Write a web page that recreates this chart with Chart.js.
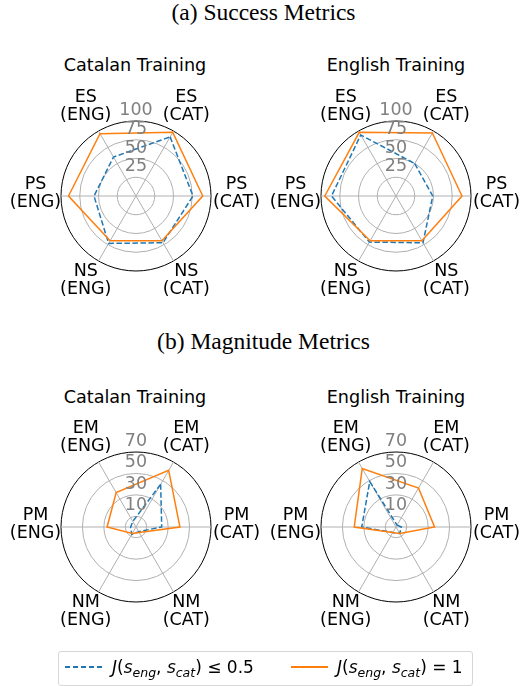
<!DOCTYPE html>
<html>
<head>
<meta charset="utf-8">
<script src="https://cdn.jsdelivr.net/npm/chart.js@4"></script>
<style>
    body {
        margin: 0;
        width: 521px;
        height: 686px;
        position: relative;
        overflow: hidden;
        background: #fff;
        font-family: 'DejaVu Sans', sans-serif;
    }
    canvas { position: absolute; }
    .fig-title {
        position: absolute;
        left: 3px;
        width: 521px;
        text-align: center;
        font-family: 'Liberation Serif', 'Times New Roman', serif;
        font-size: 23.5px;
        line-height: 26px;
    }
    .sub-title {
        position: absolute;
        width: 200px;
        text-align: center;
        font-size: 17.6px;
        line-height: 20px;
    }
    #legend {
        position: absolute;
        left: 58px;
        top: 651px;
        width: 413px;
        height: 33px;
        border: 1px solid #d6d6d6;
        border-radius: 3px;
        font-size: 17px;
    }
    .sample { position: absolute; top: 14px; width: 37px; height: 1.5px; }
    .sample.low { background: repeating-linear-gradient(90deg, #1f77b4 0 5.5px, transparent 5.5px 8px); }
    .sample.full { background: #ff7f0e; }
    .entry { position: absolute; top: 5px; line-height: 20px; white-space: nowrap; }
    .entry sub { font-size: 12.5px; line-height: 0; font-style: italic; }
</style>
</head>
<body>
<div class="fig-title" style="top:-1px">(a) Success Metrics</div>
<div class="fig-title" style="top:328px">(b) Magnitude Metrics</div>

<div class="sub-title" style="left:35px; top:55px">Catalan Training</div>
<div class="sub-title" style="left:296px; top:55px">English Training</div>
<div class="sub-title" style="left:35px; top:387px">Catalan Training</div>
<div class="sub-title" style="left:296px; top:387px">English Training</div>

<canvas id="catSuccess" width="260" height="260" style="left:6px; top:66px"></canvas>
<canvas id="engSuccess" width="260" height="260" style="left:266px; top:66px"></canvas>
<canvas id="catMagnitude" width="260" height="260" style="left:6px; top:397px"></canvas>
<canvas id="engMagnitude" width="260" height="260" style="left:266px; top:397px"></canvas>

<div id="legend">
    <div class="sample low" style="left:6px"></div>
    <div class="entry" style="left:53px"><i>J</i>(<i>s</i><sub>eng</sub>, <i>s</i><sub>cat</sub>) ≤ 0.5</div>
    <div class="sample full" style="left:232px"></div>
    <div class="entry" style="left:278px"><i>J</i>(<i>s</i><sub>eng</sub>, <i>s</i><sub>cat</sub>) = 1</div>
</div>

<script>
// Categories, clockwise starting at the upper-right spoke
const successLabels = [['ES', '(CAT)'], ['PS', '(CAT)'], ['NS', '(CAT)'], ['NS', '(ENG)'], ['PS', '(ENG)'], ['ES', '(ENG)']];
const magnitudeLabels = [['EM', '(CAT)'], ['PM', '(CAT)'], ['NM', '(CAT)'], ['NM', '(ENG)'], ['PM', '(ENG)'], ['EM', '(ENG)']];

// Radial ticks
const successTicks = [0, 25, 50, 75, 100];
const magnitudeTicks = [0, 10, 30, 50, 70];

// Series: "low" = J <= 0.5, "full" = J = 1
const catSuccessLow = [91, 76, 72, 73, 56, 60];
const catSuccessFull = [98, 89, 69, 69, 90, 96];
const engSuccessLow = [50, 49, 72, 71, 86, 94];
const engSuccessFull = [97, 88, 69, 69, 95, 98];

const catMagnitudeLow = [46, 24, 5, 8, 5, 6];
const catMagnitudeFull = [61, 41, 6, 7, 27, 37];
const engMagnitudeLow = [2, 5, 7, 6, 32, 49];
const engMagnitudeFull = [42, 36, 7, 6, 39, 63];

// Draw tick labels above each ring and the spoke labels around the circle
const radarText = {
    id: 'radarText',
    afterDatasetsDraw(chart) {
        const r = chart.scales.r;
        const ctx = chart.ctx;
        ctx.save();
        ctx.textAlign = 'center';
        ctx.textBaseline = 'middle';
        ctx.font = '17.5px "DejaVu Sans"';
        ctx.fillStyle = '#808080';
        r.ticks.forEach(t => {
            if (t.value === 0) return;
            const d = r.getDistanceFromCenterForValue(t.value);
            ctx.fillText(String(t.value), r.xCenter, r.yCenter - d - 10.5);
        });
        ctx.fillStyle = '#000';
        chart.data.labels.forEach((lab, i) => {
            const p = r.getPointPosition(i, r.drawingArea + 25.5);
            lab.forEach((line, j) => {
                ctx.fillText(line, p.x, p.y - 2.5 + (j - (lab.length - 1) / 2) * 18.5);
            });
        });
        ctx.restore();
    }
};

function makeRadar(id, labels, ticks, low, full) {
    const max = ticks[ticks.length - 1];
    new Chart(document.getElementById(id), {
        type: 'radar',
        data: {
            labels: labels,
            datasets: [{
                data: full,
                borderColor: '#ff7f0e',
                borderWidth: 1.5,
                fill: false
            }, {
                data: low,
                borderColor: '#1f77b4',
                borderWidth: 1.5,
                borderDash: [5.5, 2.5],
                fill: false
            }]
        },
        options: {
            responsive: false,
            animation: false,
            layout: { padding: 55 },
            elements: {
                point: { radius: 0, hoverRadius: 0 },
                line: { tension: 0 }
            },
            plugins: {
                legend: { display: false },
                tooltip: { enabled: false }
            },
            scales: {
                r: {
                    min: 0,
                    max: max,
                    startAngle: 30,
                    afterBuildTicks: axis => {
                        axis.ticks = ticks.map(v => ({ value: v }));
                    },
                    ticks: { display: false },
                    pointLabels: { display: false },
                    grid: {
                        circular: true,
                        color: c => c.tick && c.tick.value === max ? '#000' : '#b0b0b0',
                        lineWidth: 1
                    },
                    angleLines: { color: '#b0b0b0', lineWidth: 1 }
                }
            }
        },
        plugins: [radarText]
    });
}

makeRadar('catSuccess', successLabels, successTicks, catSuccessLow, catSuccessFull);
makeRadar('engSuccess', successLabels, successTicks, engSuccessLow, engSuccessFull);
makeRadar('catMagnitude', magnitudeLabels, magnitudeTicks, catMagnitudeLow, catMagnitudeFull);
makeRadar('engMagnitude', magnitudeLabels, magnitudeTicks, engMagnitudeLow, engMagnitudeFull);
</script>
</body>
</html>
